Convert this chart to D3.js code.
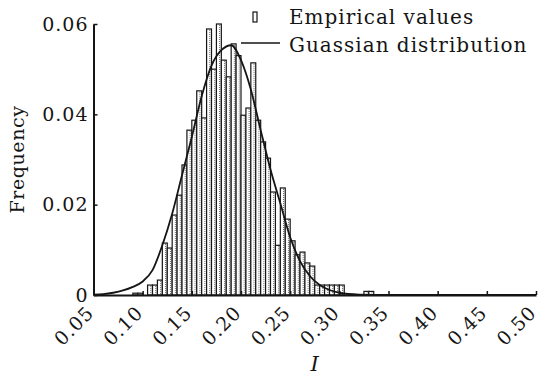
<!DOCTYPE html>
<html>
<head>
<meta charset="utf-8">
<script src="https://cdn.jsdelivr.net/npm/d3@7/dist/d3.min.js"></script>
<style>
  html, body { margin: 0; padding: 0; background: #fff; }
  svg { display: block; font-family: "DejaVu Serif", serif; }
</style>
</head>
<body>
<svg id="chart" width="539" height="376"></svg>
<script>
// histogram bins: left edge of each 0.005-wide bin and its frequency
const binWidth = 0.005;
const binStarts = [
  0.090, 0.095, 0.105, 0.110, 0.115, 0.120, 0.125, 0.130, 0.135, 0.140,
  0.145, 0.150, 0.155, 0.160, 0.165, 0.170, 0.175, 0.180, 0.185, 0.190,
  0.195, 0.200, 0.205, 0.210, 0.215, 0.220, 0.225, 0.230, 0.235, 0.240,
  0.245, 0.250, 0.255, 0.260, 0.265, 0.270, 0.275, 0.280, 0.285, 0.290,
  0.295, 0.300, 0.325, 0.330,
];
const binFreq = [
  0.0004, 0.0004, 0.0022, 0.0022, 0.0033, 0.0115, 0.0104, 0.0177, 0.0221, 0.0288,
  0.0365, 0.0387, 0.0452, 0.0392, 0.0589, 0.0500, 0.0600, 0.0520, 0.0483, 0.0556,
  0.0530, 0.0398, 0.0414, 0.0514, 0.0387, 0.0339, 0.0303, 0.0228, 0.0110, 0.0237,
  0.0168, 0.0120, 0.0089, 0.0095, 0.0071, 0.0064, 0.0022, 0.0022, 0.0022, 0.0022,
  0.0022, 0.0022, 0.0008, 0.0008,
];

// fitted gaussian curve
const curveX = [
  0.05, 0.06, 0.07, 0.08, 0.09, 0.10, 0.11, 0.12, 0.13, 0.14, 0.15, 0.16,
  0.17, 0.18, 0.19, 0.20, 0.21, 0.22, 0.23, 0.24, 0.25, 0.26, 0.27, 0.28,
  0.29, 0.30, 0.32, 0.35, 0.40, 0.45, 0.50,
];
const curveY = [
  0.0001, 0.0002, 0.0005, 0.0010, 0.0018, 0.0030, 0.0055, 0.0110, 0.0180, 0.0265, 0.0350, 0.0440,
  0.0508, 0.0542, 0.0553, 0.0520, 0.0455, 0.0365, 0.0278, 0.0203, 0.0128, 0.0075, 0.0042, 0.0022,
  0.0011, 0.0005, 0.0001, 0, 0, 0, 0,
];

const xTicks = [0.05, 0.10, 0.15, 0.20, 0.25, 0.30, 0.35, 0.40, 0.45, 0.50];
const yTicks = [0, 0.02, 0.04, 0.06];
const legendLabels = ['Empirical values', 'Guassian distribution'];

const svg = d3.select('#chart');
const ink = '#151515';

const x = d3.scaleLinear().domain([0.05, 0.50]).range([93.5, 536]);
const y = d3.scaleLinear().domain([0, 0.06]).range([295, 24]);

// bars
const bars = svg.append('g');
const binData = binStarts.map((start, i) => ({ start, value: binFreq[i] }));

bars
  .selectAll('rect')
  .data(binData)
  .join('rect')
  .attr('x', (d) => x(d.start))
  .attr('y', (d) => y(d.value))
  .attr('width', (d) => x(d.start + binWidth) - x(d.start))
  .attr('height', (d) => y(0) - y(d.value))
  .attr('fill', '#fff')
  .attr('stroke', ink)
  .attr('stroke-width', 1.2);

// dotted hatch inside each bar
bars
  .selectAll('line')
  .data(binData)
  .join('line')
  .attr('x1', (d) => x(d.start + binWidth * 0.65))
  .attr('x2', (d) => x(d.start + binWidth * 0.65))
  .attr('y1', (d) => y(d.value) + 1)
  .attr('y2', y(0))
  .attr('stroke', '#555')
  .attr('stroke-width', 0.9)
  .attr('stroke-dasharray', '1,1');

// gaussian curve
const curvePts = curveX.map((v, i) => [v, curveY[i]]);
svg
  .append('path')
  .datum(curvePts)
  .attr('fill', 'none')
  .attr('stroke', ink)
  .attr('stroke-width', 1.8)
  .attr('d', d3.line().x((d) => x(d[0])).y((d) => y(d[1])).curve(d3.curveMonotoneX));

// axes
const yAxis = svg
  .append('g')
  .attr('transform', `translate(${x(0.05)},0)`)
  .call(d3.axisLeft(y).tickValues(yTicks).tickSizeInner(-4).tickSizeOuter(0).tickPadding(5)
    .tickFormat((d) => (d === 0 ? '0' : d3.format('.2f')(d))));

yAxis.select('.domain').attr('stroke', ink).attr('stroke-width', 2);
yAxis.selectAll('.tick line').attr('stroke', ink).attr('stroke-width', 1.5);
yAxis.selectAll('.tick text')
  .attr('fill', ink)
  .style('font-size', '19px')
  .style('letter-spacing', '1px')
  .style('font-family', '"DejaVu Serif", serif');

const xAxis = svg
  .append('g')
  .attr('transform', `translate(0,${y(0)})`)
  .call(d3.axisBottom(x).tickValues(xTicks).tickSizeInner(-4).tickSizeOuter(0)
    .tickFormat(d3.format('.2f')));

xAxis.select('.domain').attr('stroke', ink).attr('stroke-width', 2);
xAxis.selectAll('.tick line').attr('stroke', ink).attr('stroke-width', 1.5);
xAxis.selectAll('.tick text')
  .attr('fill', ink)
  .style('font-size', '19px')
  .style('letter-spacing', '1px')
  .style('font-family', '"DejaVu Serif", serif')
  .attr('text-anchor', 'end')
  .attr('dy', null)
  .attr('y', 0)
  .attr('transform', 'translate(1,19) rotate(-45)');

// axis titles
svg
  .append('text')
  .attr('transform', `translate(24,${(y(0) + y(0.06)) / 2}) rotate(-90)`)
  .attr('text-anchor', 'middle')
  .attr('fill', ink)
  .style('font-size', '19px')
  .style('letter-spacing', '0.6px')
  .text('Frequency');

svg
  .append('text')
  .attr('x', (x(0.05) + x(0.50)) / 2)
  .attr('y', 371)
  .attr('text-anchor', 'middle')
  .attr('fill', ink)
  .style('font-size', '21px')
  .style('font-style', 'italic')
  .text('I');

// legend
const legend = svg.append('g');
legend
  .append('rect')
  .attr('x', 253)
  .attr('y', 12)
  .attr('width', 4)
  .attr('height', 10)
  .attr('fill', '#fff')
  .attr('stroke', ink)
  .attr('stroke-width', 1.2);
legend
  .append('line')
  .attr('x1', 241)
  .attr('x2', 280)
  .attr('y1', 43)
  .attr('y2', 43)
  .attr('stroke', ink)
  .attr('stroke-width', 1.5);
legend
  .selectAll('text')
  .data(legendLabels)
  .join('text')
  .attr('x', 289)
  .attr('y', (d, i) => 24 + i * 28)
  .attr('fill', ink)
  .style('font-size', '20px')
  .style('letter-spacing', '1px')
  .text((d) => d);
</script>
</body>
</html>
